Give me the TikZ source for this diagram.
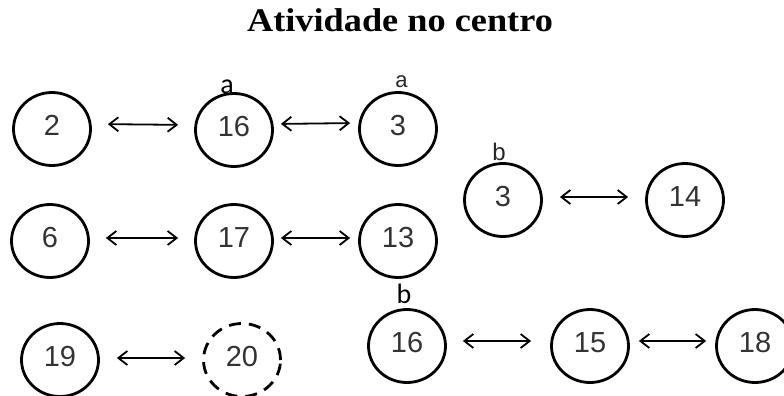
\documentclass[tikz,border=0pt]{standalone}
\usepackage{fontspec}
\setmainfont{Liberation Sans}
\newfontfamily\titlefont{Liberation Serif}
\newfontfamily\calfont{Carlito}
\usetikzlibrary{shapes.geometric,arrows.meta}
\begin{document}
\begin{tikzpicture}[x=1pt,y=-1pt,
  ball/.style={ellipse,draw,line width=2.8pt,minimum width=77pt,minimum height=73pt,inner sep=0pt,
    font=\fontsize{29}{31}\selectfont,text=black!80,text height=20pt,text depth=8pt},
  dball/.style={ball,dash pattern=on 12pt off 8pt},
  link/.style={line width=1.8pt,{Straight Barb[length=9pt,width=14pt,line width=1.8pt]}-{Straight Barb[length=9pt,width=14pt,line width=1.8pt]}},
  biglab/.style={anchor=base,inner sep=0pt,font=\calfont\fontsize{28}{30}\selectfont},
  smalllab/.style={anchor=base,inner sep=0pt,font=\fontsize{22}{24}\selectfont,text=black!85}]
\useasboundingbox (0,0) rectangle (784,396);
\node[anchor=base,inner sep=0pt,font=\titlefont\bfseries\fontsize{33}{36}\selectfont,xscale=1.1] (title) at (400,32) {Atividade no centro};
% row 1
\node[ball] (n2) at (52,129) {2};
\node[ball] (n16a) at (234,130) {16};
\node[ball] (n3a) at (398,129) {3};
% row 2
\node[ball] (n6) at (50,241) {6};
\node[ball] (n17) at (234,241) {17};
\node[ball] (n13) at (398,241) {13};
% right middle
\node[ball] (n3b) at (503,200) {3};
\node[ball] (n14) at (685,200) {14};
% bottom left
\node[ball] (n19) at (60,360) {19};
\node[dball] (n20) at (242,360) {20};
% bottom right
\node[ball] (n16b) at (407,346) {16};
\node[ball] (n15) at (590,346) {15};
\node[ball] (n18) at (755,346) {18};
% labels
\node[biglab] (la1) at (227,93) {a};
\node[smalllab] (la2) at (401.5,88) {a};
\node[smalllab,font=\fontsize{24}{26}\selectfont] (lb1) at (499,160) {b};
\node[biglab] (lb2) at (404,303) {b};
% connectors
\draw[link,shorten <=16pt,shorten >=16pt] ([yshift=5pt]n2.east) -- ([yshift=5pt]n16a.west);
\draw[link,shorten <=7pt,shorten >=8pt] ([yshift=6pt]n16a.east) -- ([yshift=6pt]n3a.west);
\draw[link,shorten <=16pt,shorten >=16pt] ([yshift=3pt]n6.east) -- ([yshift=3pt]n17.west);
\draw[link,shorten <=7pt,shorten >=8pt] ([yshift=3pt]n17.east) -- ([yshift=3pt]n13.west);
\draw[link,shorten <=17pt,shorten >=17pt] ([yshift=3pt]n3b.east) -- ([yshift=3pt]n14.west);
\draw[link,shorten <=17pt,shorten >=17pt] ([yshift=2pt]n19.east) -- ([yshift=2pt]n20.west);
\draw[link,shorten <=16pt,shorten >=19pt] ([yshift=5pt]n16b.east) -- ([yshift=5pt]n15.west);
\draw[link,shorten <=9pt,shorten >=9pt] ([yshift=5pt]n15.east) -- ([yshift=5pt]n18.west);
\end{tikzpicture}
\end{document}
